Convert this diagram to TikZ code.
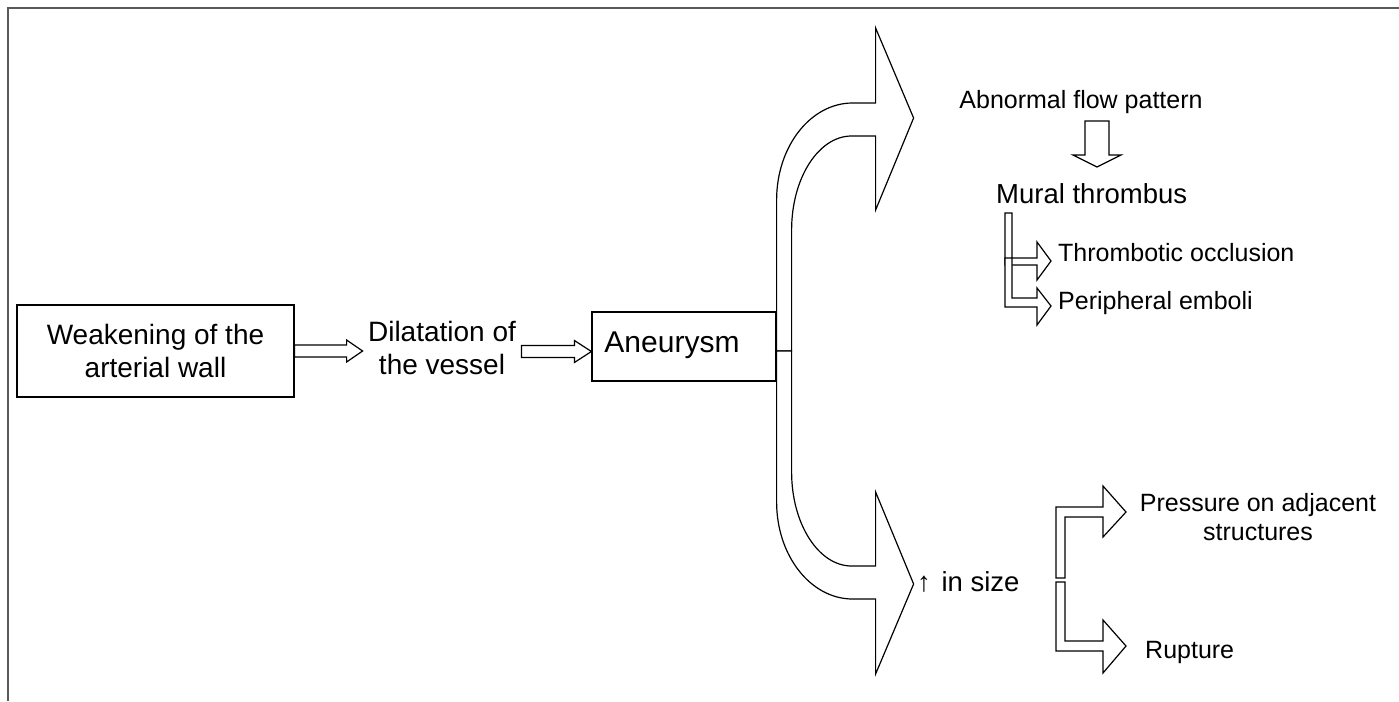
\documentclass[tikz,border=0pt]{standalone}
\usepackage{fontspec}
\setmainfont{Liberation Sans}
\usetikzlibrary{calc}
\tikzset{
  blk/.style={draw=black, fill=white, line width=1.2pt, line join=miter},
  boxed/.style={draw=black, line width=1.2pt, inner sep=0pt, align=center},
  txtL/.style={font=\fontsize{28}{33}\selectfont, inner sep=0pt, align=center},
  txtR/.style={font=\fontsize{25}{29}\selectfont, inner sep=0pt, align=center},
  % right-pointing block arrow: length, shaft half-width, head half-width, head length
  pics/rblock/.style n args={4}{code={
    \draw[blk] (0,-#2) -- ({#1-#4},-#2) -- ({#1-#4},-#3) -- (#1,0)
      -- ({#1-#4},#3) -- ({#1-#4},#2) -- (0,#2) -- cycle;
  }},
}
\begin{document}
\begin{tikzpicture}[x=1pt,y=-1pt]
\useasboundingbox (0,0) rectangle (1399,701);

% page frame
\draw[black!65, line width=2pt] (1399,8) -- (8,8) -- (8,701);

% chain on the left
\node[boxed, txtL, minimum width=277, minimum height=92] (weak) at (155.5,351)
  {Weakening of the\\arterial wall};
\node[txtL] (dil) at (442,348) {Dilatation of\\the vessel};
\node[boxed, minimum width=184, minimum height=69] (aneu) at (684,346.5) {};
\node[txtL, font=\fontsize{30}{35}\selectfont] (aneutxt) at ([xshift=-12pt,yshift=1pt]aneu.center) {Aneurysm};

\pic at (weak.east) {rblock={68}{6}{11}{16}};
\path (aneu.west) ++(-70,5) coordinate (a2tail);
\pic at (a2tail) {rblock={70}{6}{11}{17}};

% the two curved branches leaving the aneurysm
\coordinate (hub) at (aneu.east |- weak.east);
\begin{scope}[shift={(hub)}]
  \draw[blk] (0,0) -- (0,-151) .. controls (0,-204.6) and (34,-248) .. (76,-248)
    -- (99,-248) -- (99,-323) -- (137,-233) -- (99,-141) -- (99,-215) -- (75,-215)
    .. controls (42,-215) and (15,-173) .. (15,-121) -- (15,0) -- cycle;
  \draw[blk] (0,0) -- (0,151) .. controls (0,204.6) and (34,248) .. (76,248)
    -- (99,248) -- (99,323) -- (137,233) -- (99,141) -- (99,215) -- (75,215)
    .. controls (42,215) and (15,173) .. (15,121) -- (15,0) -- cycle;
\end{scope}

% upper branch
\node[txtR] (abn) at (1081,102) {Abnormal flow pattern};
\coordinate (dtail) at (1097,121);
\pic[rotate=-90] at (dtail) {rblock={46}{12}{24}{12}};
\node[txtR, font=\fontsize{27.5}{32}\selectfont, anchor=west] (mural) at (996,194) {Mural thrombus};

\draw[blk] (1005,213) -- (1012,213) -- (1012,258) -- (1037,258) -- (1037,242)
  -- (1051,261) -- (1037,280) -- (1037,265) -- (1005,265) -- cycle;
\draw[blk] (1005,258) -- (1012,258) -- (1012,298) -- (1037,298) -- (1037,288)
  -- (1051,306) -- (1037,325) -- (1037,307) -- (1005,307) -- cycle;
\node[txtR, anchor=west] (occl) at (1058,253) {Thrombotic occlusion};
\node[txtR, anchor=west] (emb) at (1058,303) {Peripheral emboli};

% lower branch
\node[txtR, font=\fontsize{27.5}{32}\selectfont, anchor=west] (size) at (917,582) {↑\hspace{3pt} in size};
\draw[blk] (1056,578) -- (1056,507) -- (1103,507) -- (1103,486) -- (1126,512)
  -- (1103,537) -- (1103,517) -- (1065,517) -- (1065,578) -- cycle;
\draw[blk] (1056,582) -- (1065,582) -- (1065,641) -- (1103,641) -- (1103,620)
  -- (1126,646) -- (1103,673) -- (1103,651) -- (1056,651) -- cycle;
\node[txtR] (press) at (1258,517) {Pressure on adjacent\\structures};
\node[txtR, anchor=west] (rupt) at (1145,652) {Rupture};
\end{tikzpicture}
\end{document}
